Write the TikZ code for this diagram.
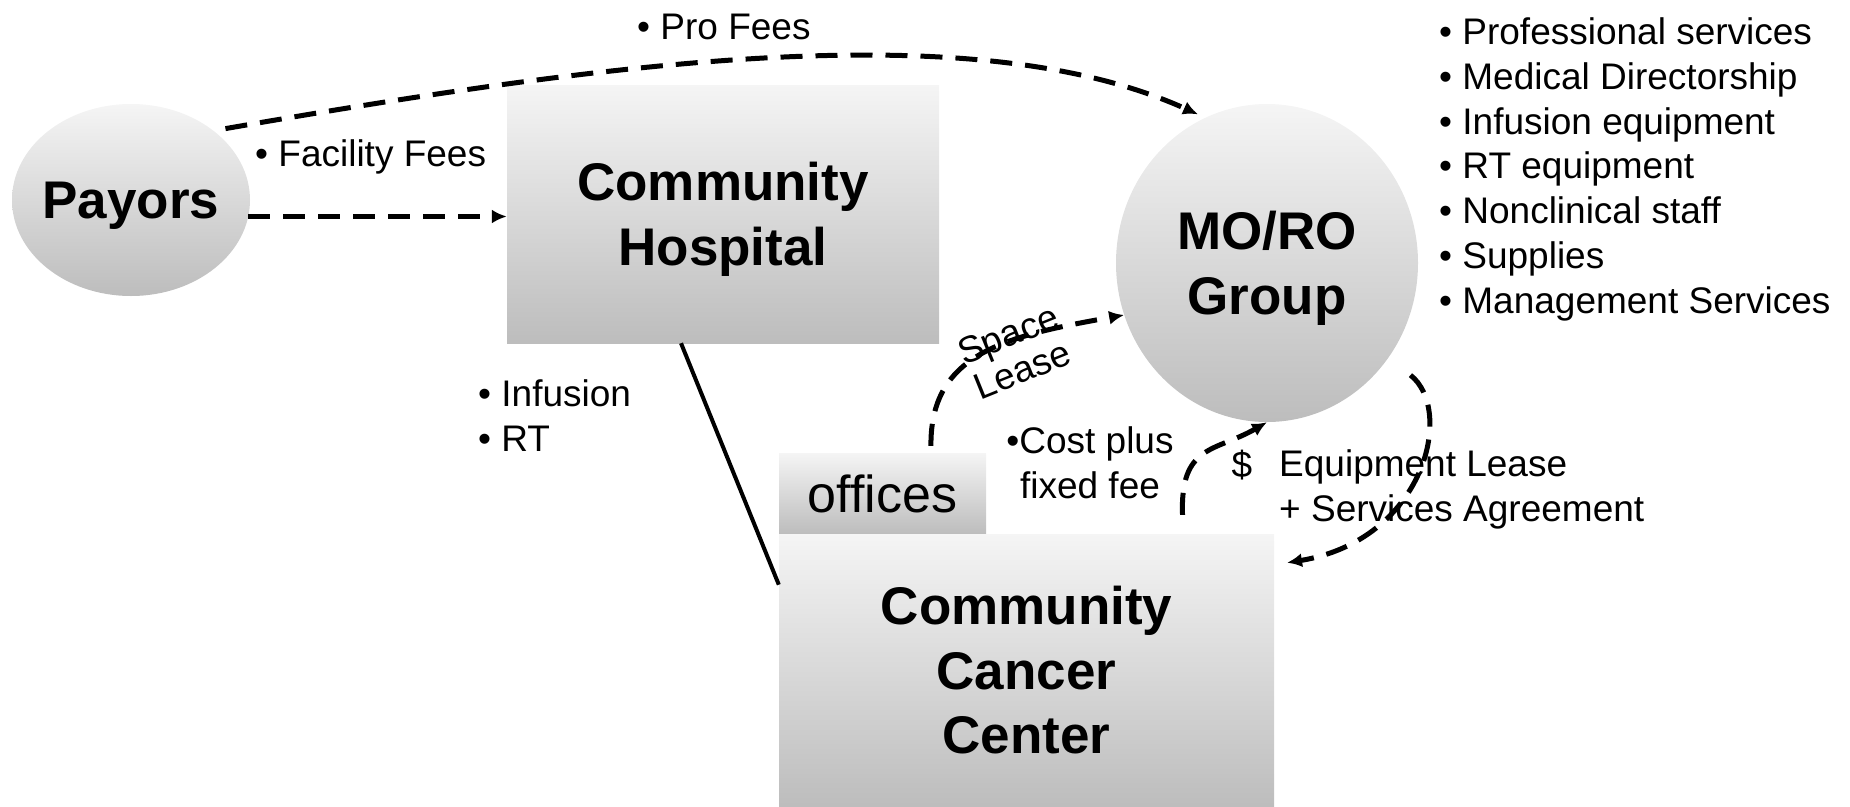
\documentclass[tikz,border=0pt]{standalone}
\usepackage{fontspec}
\setmainfont{Liberation Sans}
\usetikzlibrary{arrows.meta,calc,shapes.geometric,positioning}

\begin{document}
\begin{tikzpicture}[x=1pt,y=-1pt,
  bigtext/.style={font=\fontsize{53}{64.5}\selectfont\bfseries, align=center, inner sep=0pt, text depth=-4pt},
  note/.style={font=\fontsize{37}{45}\selectfont, inner sep=0pt},
  boxfill/.style={top color=gray!8, bottom color=gray!52, draw=none},
  flow/.style={line width=5pt, dash pattern=on 22pt off 13pt, -{Latex[length=15pt,width=14pt]}}]
\useasboundingbox (0,0) rectangle (1850,806);
\node[ellipse, boxfill, bigtext, inner xsep=-5pt, minimum width=238pt, minimum height=192pt] (Payors) at (131,200) {Payors};
\node[rectangle, boxfill, bigtext, minimum width=432pt, minimum height=258pt] (Hospital) at (723,214) {Community\\Hospital};
\node[ellipse, boxfill, bigtext, minimum width=302pt, minimum height=318pt] (Group) at (1267,263) {MO/RO\\Group};
\node[rectangle, boxfill, inner sep=0pt, text depth=-6pt, minimum width=207pt, minimum height=81pt, font=\fontsize{52}{60}\selectfont] (Offices) at (882.5,493.5) {offices};
\node[rectangle, boxfill, bigtext, minimum width=495pt, minimum height=272pt] (Center) at (1026.5,670) {Community\\Cancer\\Center};

\node[note, anchor=base west] (ProFees) at (637,39) {• Pro Fees};
\node[note, anchor=base west] (FacilityFees) at (255,166) {• Facility Fees};
\node[note, anchor=base west, align=left] (HospServices) at (478,451) {• Infusion\\• RT};
\node[note, anchor=base, align=center] (CostPlus) at (1090,498) {•Cost plus\\fixed fee};
\node[note, anchor=base] (Dollar) at (1242,477) {\$};
\node[note, anchor=base west, align=left] (Agreement) at (1279,521) {Equipment Lease\\+ Services Agreement};
\node[note, rotate=22, align=center, font=\fontsize{37}{38}\selectfont] (SpaceLease) at (1015,352) {Space\\Lease};
\foreach \entry [count=\i] in {Professional services, Medical Directorship, Infusion equipment, RT equipment, Nonclinical staff, Supplies, Management Services}
  \node[note, anchor=base west] (Item\i) at (1439,{44.5+44.8*(\i-1)}) {• \entry};

\draw[flow] (Payors.-8) -- (Payors.-8 -| Hospital.west);
\draw[flow, shorten <=12pt, shorten >=8pt] (Payors.40) .. controls (620,60) and (976,14) .. (Group.113);
\draw[line width=4pt] (Hospital.252) -- (Center.161);
\draw[flow, shorten <=7pt] (Offices.40) .. controls (930,353) and (1006,336) .. (Group.200);
\draw[flow, shorten <=19pt] (Center.41) .. controls (1180,444) and (1215,452) .. (Group.south);
\draw[flow, shorten <=28pt, shorten >=13pt] (Group.-38) .. controls (1455,410) and (1425,540) .. (Center.23);
\end{tikzpicture}
\end{document}
